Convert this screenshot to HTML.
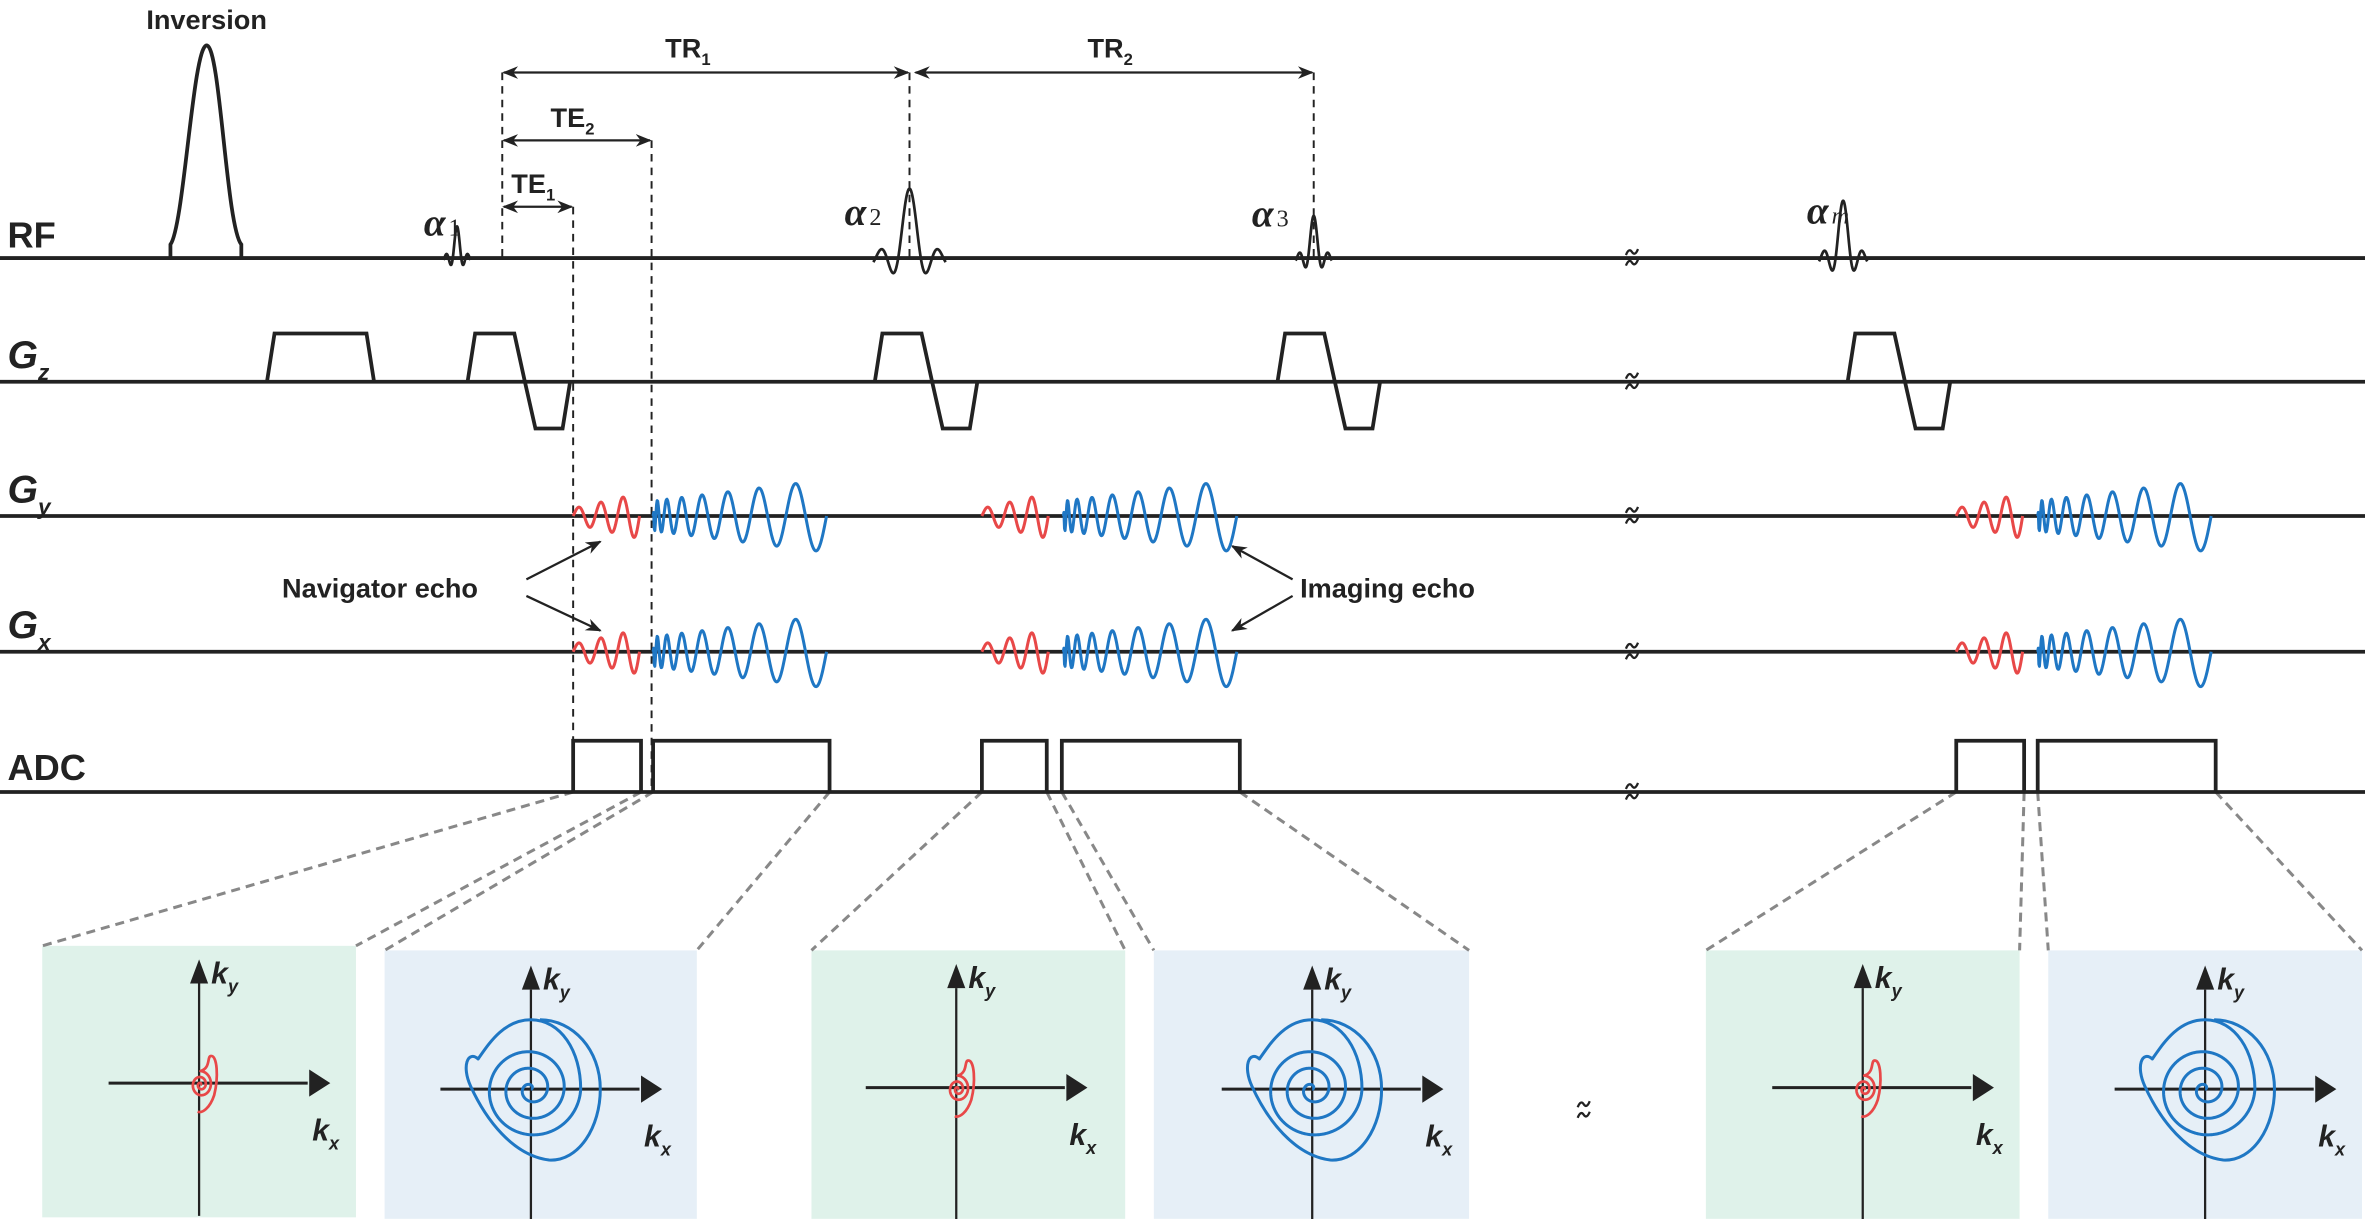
<!DOCTYPE html>
<html><head><meta charset="utf-8"><style>
html,body{margin:0;padding:0;background:#fff}
svg{display:block}
text{font-family:"Liberation Sans",sans-serif;fill:#222}
</style></head><body>
<svg id="s" width="2365" height="1219" viewBox="0 0 1568 808" xmlns="http://www.w3.org/2000/svg">
<defs>
<marker id="ah" viewBox="0 0 10 10" refX="9" refY="5" markerWidth="7" markerHeight="7" orient="auto-start-reverse"><path d="M0,1 L10,5 L0,9 L3,5 z" fill="#222"/></marker>
</defs>
<rect x="28" y="627" width="208" height="180" fill="#dff2ea"/>
<rect x="255" y="630" width="207" height="178" fill="#e6eff7"/>
<rect x="538" y="630" width="208" height="178" fill="#dff2ea"/>
<rect x="765" y="630" width="209" height="178" fill="#e6eff7"/>
<rect x="1131" y="630" width="208" height="178" fill="#dff2ea"/>
<rect x="1358" y="630" width="208" height="178" fill="#e6eff7"/>
<g stroke="#888" stroke-width="2" stroke-dasharray="6,4" fill="none">
<line x1="380" y1="525" x2="28" y2="627"/><line x1="425" y1="525" x2="236" y2="627"/>
<line x1="433" y1="525" x2="255" y2="630"/><line x1="550" y1="525" x2="462" y2="630"/>
<line x1="651" y1="525" x2="538" y2="630"/><line x1="694" y1="525" x2="746" y2="630"/>
<line x1="704" y1="525" x2="765" y2="630"/><line x1="822" y1="525" x2="974" y2="630"/>
<line x1="1297" y1="525" x2="1131" y2="630"/><line x1="1342" y1="525" x2="1339" y2="630"/>
<line x1="1351" y1="525" x2="1358" y2="630"/><line x1="1469" y1="525" x2="1566" y2="630"/>
</g>
<g stroke="#222" stroke-width="2.5" fill="none">
<line x1="0" y1="171" x2="1568" y2="171"/>
<line x1="0" y1="253" x2="1568" y2="253"/>
<line x1="0" y1="342" x2="1568" y2="342"/>
<line x1="0" y1="432" x2="1568" y2="432"/>
<line x1="0" y1="525" x2="1568" y2="525"/>
</g>
<g font-weight="bold" font-size="24">
<text x="5" y="164">RF</text>
<text x="5" y="517">ADC</text>
</g>
<g font-weight="bold" font-style="italic" font-size="26">
<text x="5" y="244">G<tspan font-size="15" dy="8">z</tspan></text>
<text x="5" y="333">G<tspan font-size="15" dy="8">y</tspan></text>
<text x="5" y="423">G<tspan font-size="15" dy="8">x</tspan></text>
</g>
<text x="137" y="19" font-size="18" font-weight="bold" text-anchor="middle">Inversion</text>
<g font-style="italic" font-weight="bold" font-size="26">
<text x="281" y="156" style="font-family:'Liberation Serif',serif">α<tspan font-size="16" font-style="normal" font-weight="normal" dx="2">1</tspan></text>
<text x="560" y="149" style="font-family:'Liberation Serif',serif">α<tspan font-size="16" font-style="normal" font-weight="normal" dx="2">2</tspan></text>
<text x="830" y="150" style="font-family:'Liberation Serif',serif">α<tspan font-size="16" font-style="normal" font-weight="normal" dx="2">3</tspan></text>
<text x="1198" y="148" style="font-family:'Liberation Serif',serif">α<tspan font-size="16" font-style="italic" font-weight="normal" dx="2">m</tspan></text>
</g>
<g font-size="18" font-weight="bold">
<text x="441" y="38">TR<tspan font-size="11" dy="5">1</tspan></text>
<text x="721" y="38">TR<tspan font-size="11" dy="5">2</tspan></text>
<text x="365" y="84">TE<tspan font-size="11" dy="5">2</tspan></text>
<text x="339" y="128">TE<tspan font-size="11" dy="5">1</tspan></text>
<text x="187" y="396">Navigator echo</text>
<text x="862" y="396">Imaging echo</text>
</g>
<g stroke="#222" stroke-width="1.5" fill="none">
<line x1="334" y1="48" x2="602" y2="48" marker-start="url(#ah)" marker-end="url(#ah)"/>
<line x1="607" y1="48" x2="870" y2="48" marker-start="url(#ah)" marker-end="url(#ah)"/>
<line x1="334" y1="93" x2="431" y2="93" marker-start="url(#ah)" marker-end="url(#ah)"/>
<line x1="334" y1="137" x2="379" y2="137" marker-start="url(#ah)" marker-end="url(#ah)"/>
<line x1="349" y1="384" x2="398" y2="359" marker-end="url(#ah)"/>
<line x1="349" y1="395" x2="398" y2="418" marker-end="url(#ah)"/>
<line x1="857" y1="384" x2="817" y2="362" marker-end="url(#ah)"/>
<line x1="857" y1="395" x2="817" y2="418" marker-end="url(#ah)"/>
</g>
<g stroke="#222" stroke-width="1.3" stroke-dasharray="5,4" fill="none">
<line x1="333" y1="48" x2="333" y2="171"/>
<line x1="603" y1="48" x2="603" y2="171"/>
<line x1="871" y1="48" x2="871" y2="171"/>
<line x1="380" y1="137" x2="380" y2="525"/>
<line x1="432" y1="93" x2="432" y2="525"/>
</g>
<g stroke="#222" stroke-width="2.5" fill="none">
<path d="M177,253 L182,221 L243,221 L248,253"/>
<path d="M310,253 L315,221 L341,221 L348,253 L355,284 L373,284 L378,253"/>
<path d="M580,253 L585,221 L611,221 L618,253 L625,284 L643,284 L648,253"/>
<path d="M847,253 L852,221 L878,221 L885,253 L892,284 L910,284 L915,253"/>
<path d="M1225,253 L1230,221 L1256,221 L1263,253 L1270,284 L1288,284 L1293,253"/>
<path d="M380,525 V491 H425 V525 M433,525 V491 H550 V525"/>
<path d="M651,525 V491 H694 V525 M704,525 V491 H822 V525"/>
<path d="M1297,525 V491 H1342 V525 M1351,525 V491 H1469 V525"/>
<path d="M113,171 V162 C122,150 128,30 137,30 C146,30 150,150 160,162 V171" />
</g>
<g id="dyn"></g>
</svg>
<script>
const NS="http://www.w3.org/2000/svg";
const dyn=document.getElementById('dyn');
function P(d,c,w){const p=document.createElementNS(NS,'path');p.setAttribute('d',d);p.setAttribute('stroke',c);p.setAttribute('stroke-width',w);p.setAttribute('fill','none');p.setAttribute('stroke-linejoin','round');dyn.appendChild(p);}
function sinc(cx,h,hw){let d='';for(let i=0;i<=200;i++){const t=(i/100-1)*3.2*Math.PI;const x=cx+t/(3.2*Math.PI)*hw;const v=Math.abs(t)<1e-6?1:Math.sin(t)/t;d+=(i?'L':'M')+x.toFixed(2)+','+(171-h*v).toFixed(2);}P(d,'#222',1.8);}
sinc(303,21,9);sinc(603,46,24);sinc(871,28,12);sinc(1222,38,16);
function brk(x,y){P(`M${x-4},${y-2} q2,-5 4,-2 t4,-2 M${x-4},${y+5} q2,-5 4,-2 t4,-2`,'#222',1.5);}
for(const y of [171,253,342,432,525]){brk(1082,y);}
brk(1050,736);
function wave(x0,x1,y,cyc,a0,a1,chirp,col){let d='';const N=300;for(let i=0;i<=N;i++){const u=i/N;const ph=chirp?2*Math.PI*cyc*Math.sqrt(u):2*Math.PI*cyc*u;const A=a0+(a1-a0)*u;d+=(i?'L':'M')+(x0+(x1-x0)*u).toFixed(2)+','+(y-A*Math.sin(ph)).toFixed(2);}P(d,col,2);}
for(const [r0,b0] of [[380,433],[651,705],[1297,1351]]){
 for(const y of [342,432]){wave(r0,r0+44,y,3,5,15,false,'#e84848');wave(b0,b0+115,y,8,10,24,true,'#1f77c4');}
}
function axes(cx,cy){P(`M${cx-60},${cy} H${cx+72}`,'#222',2);P(`M${cx},${cy+88} V${cy-66}`,'#222',1.5);
 const g=document.createElementNS(NS,'path');g.setAttribute('d',`M${cx+87},${cy} l-14,-9 v18 z M${cx},${cy-82} l-6,16 h12 z`);g.setAttribute('fill','#222');dyn.appendChild(g);
 const t1=document.createElementNS(NS,'text');t1.setAttribute('x',cx+8);t1.setAttribute('y',cy-66);t1.setAttribute('font-size','20');t1.setAttribute('font-weight','bold');t1.setAttribute('font-style','italic');t1.innerHTML='k<tspan font-size="12" dy="6">y</tspan>';dyn.appendChild(t1);
 const t2=document.createElementNS(NS,'text');t2.setAttribute('x',cx+75);t2.setAttribute('y',cy+38);t2.setAttribute('font-size','20');t2.setAttribute('font-weight','bold');t2.setAttribute('font-style','italic');t2.innerHTML='k<tspan font-size="12" dy="6">x</tspan>';dyn.appendChild(t2);}
function spiral(cx,cy,turns,rmax,sx,col,w,tail){let d='';const N=500;for(let i=0;i<=N;i++){const th=turns*2*Math.PI*i/N;const r=rmax*i/N;d+=(i?'L':'M')+(cx+sx*r*Math.cos(th)).toFixed(2)+','+(cy-r*Math.sin(th)).toFixed(2);}if(tail)d+=tail;P(d,col,w);}
const panels=[[132,718,'n'],[352,722,'b'],[634,721,'n'],[870,722,'b'],[1235,721,'n'],[1462,722,'b']];
for(const [cx,cy,t] of panels){axes(cx,cy);
 if(t==='n'){spiral(cx+1,cy+1,2.25,9,0.85,'#e84848',1.8,` C${cx+8},${cy-10} ${cx+5},${cy-18} ${cx+8},${cy-18} C${cx+12},${cy-18} ${cx+13},${cy-4} ${cx+10},${cy+8} C${cx+7},${cy+17} ${cx+2},${cy+20} ${cx-1},${cy+19}`);}
 else{spiral(cx,cy,3,33,1.0,'#1f77c4',2,` C${cx+33},${cy-25} ${cx+20},${cy-46} ${cx},${cy-46} C${cx-18},${cy-46} ${cx-28},${cy-30} ${cx-35},${cy-20} C${cx-42},${cy-26} ${cx-46},${cy-15} ${cx-40},${cy-2} C${cx-30},${cy+20} ${cx-12},${cy+44} ${cx+12},${cy+47} C${cx+32},${cy+48} ${cx+46},${cy+25} ${cx+46},${cy} C${cx+46},${cy-26} ${cx+28},${cy-46} ${cx+6},${cy-46}`);}
}
</script>
</body></html>
